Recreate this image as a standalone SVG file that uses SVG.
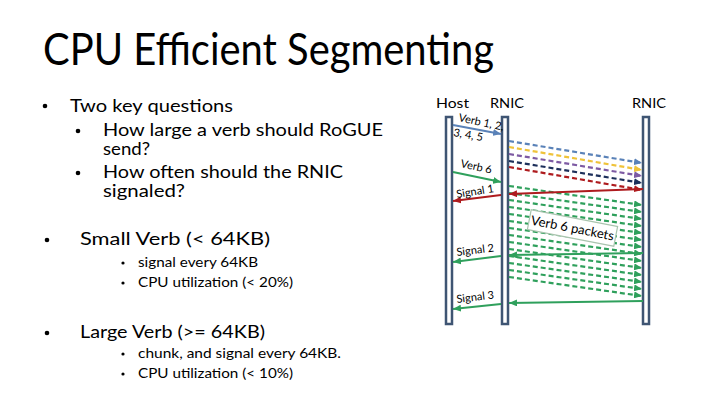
<svg xmlns="http://www.w3.org/2000/svg" width="720" height="405" viewBox="0 0 720 405">
<style>
text{font-family:Lato,"Liberation Sans",sans-serif;fill:#000}
.title{font-size:44px}
.l1{font-size:17px}
.l2{font-size:13.5px}
.hd{font-size:14px}
.lbl{font-size:11px}
.bar{fill:#fff;stroke:#3F5573;stroke-width:2.5}
.c{fill:none;stroke-width:2}
.d{stroke-dasharray:5 3;stroke-width:2.2}
</style>
<defs>
<marker id="mb" markerUnits="userSpaceOnUse" markerWidth="8" markerHeight="7" refX="8" refY="3.5" orient="auto"><path d="M0,0L8,3.5L0,7z" fill="#5A82B8"/></marker>
<marker id="my" markerUnits="userSpaceOnUse" markerWidth="8" markerHeight="7" refX="8" refY="3.5" orient="auto"><path d="M0,0L8,3.5L0,7z" fill="#EFC33A"/></marker>
<marker id="mp" markerUnits="userSpaceOnUse" markerWidth="8" markerHeight="7" refX="8" refY="3.5" orient="auto"><path d="M0,0L8,3.5L0,7z" fill="#7D5AA3"/></marker>
<marker id="mn" markerUnits="userSpaceOnUse" markerWidth="8" markerHeight="7" refX="8" refY="3.5" orient="auto"><path d="M0,0L8,3.5L0,7z" fill="#1C2F5A"/></marker>
<marker id="mr" markerUnits="userSpaceOnUse" markerWidth="8" markerHeight="7" refX="8" refY="3.5" orient="auto"><path d="M0,0L8,3.5L0,7z" fill="#AE1B1E"/></marker>
<marker id="mg" markerUnits="userSpaceOnUse" markerWidth="8" markerHeight="7" refX="8" refY="3.5" orient="auto"><path d="M0,0L8,3.5L0,7z" fill="#2FA05C"/></marker>
</defs>
<rect width="720" height="405" fill="#fff"/>

<g id="title"><text class="title" x="43" y="65" textLength="451" lengthAdjust="spacingAndGlyphs">CPU Efficient Segmenting</text></g>

<g id="bullets">
<circle cx="45" cy="106" r="2.3"/>
<text class="l1" x="70" y="112" textLength="163" lengthAdjust="spacingAndGlyphs">Two key questions</text>
<circle cx="78" cy="131" r="2.3"/>
<text class="l1" x="103" y="136" textLength="280" lengthAdjust="spacingAndGlyphs">How large a verb should RoGUE</text>
<text class="l1" x="103" y="155" textLength="47" lengthAdjust="spacingAndGlyphs">send?</text>
<circle cx="78" cy="173" r="2.3"/>
<text class="l1" x="103" y="178" textLength="240" lengthAdjust="spacingAndGlyphs">How often should the RNIC</text>
<text class="l1" x="103" y="197" textLength="82" lengthAdjust="spacingAndGlyphs">signaled?</text>

<circle cx="47" cy="240" r="2.3"/>
<text class="l1" x="80" y="245" textLength="190" lengthAdjust="spacingAndGlyphs">Small Verb (&lt; 64KB)</text>
<circle cx="123" cy="263" r="1.6"/>
<text class="l2" x="138" y="267" textLength="120" lengthAdjust="spacingAndGlyphs">signal every 64KB</text>
<circle cx="123" cy="283" r="1.6"/>
<text class="l2" x="138" y="287" textLength="155" lengthAdjust="spacingAndGlyphs">CPU utilization (&lt; 20%)</text>

<circle cx="47" cy="333" r="2.3"/>
<text class="l1" x="80" y="338" textLength="185" lengthAdjust="spacingAndGlyphs">Large Verb (&gt;= 64KB)</text>
<circle cx="123" cy="354" r="1.6"/>
<text class="l2" x="138" y="358" textLength="203" lengthAdjust="spacingAndGlyphs">chunk, and signal every 64KB.</text>
<circle cx="123" cy="374" r="1.6"/>
<text class="l2" x="138" y="378" textLength="155" lengthAdjust="spacingAndGlyphs">CPU utilization (&lt; 10%)</text>
</g>

<g id="host"><text class="hd" x="436" y="108" textLength="33" lengthAdjust="spacingAndGlyphs">Host</text><rect class="bar" x="446" y="117" width="6" height="207"/></g>
<g id="rnic1"><text class="hd" x="490" y="108" textLength="34" lengthAdjust="spacingAndGlyphs">RNIC</text><rect class="bar" x="502" y="117" width="6" height="207"/></g>
<g id="rnic2"><text class="hd" x="632" y="108" textLength="34" lengthAdjust="spacingAndGlyphs">RNIC</text><rect class="bar" x="643" y="117" width="6" height="207"/></g>

<g id="connectors">
<line class="c" x1="453" y1="125" x2="501" y2="134" stroke="#5A82B8" marker-end="url(#mb)"/>
<line class="c" x1="453" y1="172" x2="501" y2="182" stroke="#2FA05C" marker-end="url(#mg)"/>

<line class="c d" x1="509" y1="141" x2="642" y2="163" stroke="#5A82B8" marker-end="url(#mb)"/>
<line class="c d" x1="509" y1="147" x2="642" y2="170" stroke="#EFC33A" marker-end="url(#my)"/>
<line class="c d" x1="509" y1="154" x2="642" y2="176" stroke="#7D5AA3" marker-end="url(#mp)"/>
<line class="c d" x1="509" y1="161" x2="642" y2="183" stroke="#1C2F5A" marker-end="url(#mn)"/>
<line class="c d" x1="509" y1="167" x2="642" y2="190" stroke="#AE1B1E" marker-end="url(#mr)"/>

<g stroke="#2FA05C" marker-end="url(#mg)">
<line class="c d" x1="509" y1="186" x2="642" y2="205"/>
<line class="c d" x1="509" y1="193" x2="642" y2="212"/>
<line class="c d" x1="509" y1="200" x2="642" y2="219"/>
<line class="c d" x1="509" y1="207" x2="642" y2="226"/>
<line class="c d" x1="509" y1="214" x2="642" y2="233"/>
<line class="c d" x1="509" y1="221" x2="642" y2="240"/>
<line class="c d" x1="509" y1="228" x2="642" y2="247"/>
<line class="c d" x1="509" y1="235" x2="642" y2="254"/>
<line class="c d" x1="509" y1="242" x2="642" y2="261"/>
<line class="c d" x1="509" y1="249" x2="642" y2="268"/>
<line class="c d" x1="509" y1="256" x2="642" y2="275"/>
<line class="c d" x1="509" y1="263" x2="642" y2="282"/>
<line class="c d" x1="509" y1="270" x2="642" y2="289"/>
<line class="c d" x1="509" y1="277" x2="642" y2="296"/>
</g>

<line class="c" x1="643" y1="189" x2="509" y2="194" stroke="#AE1B1E" marker-end="url(#mr)"/>
<line class="c" x1="501" y1="195" x2="453" y2="201" stroke="#AE1B1E" marker-end="url(#mr)"/>
<line class="c" x1="643" y1="253" x2="509" y2="255" stroke="#2FA05C" marker-end="url(#mg)"/>
<line class="c" x1="501" y1="256" x2="453" y2="262" stroke="#2FA05C" marker-end="url(#mg)"/>
<line class="c" x1="643" y1="301" x2="509" y2="303" stroke="#2FA05C" marker-end="url(#mg)"/>
<line class="c" x1="501" y1="304" x2="453" y2="309" stroke="#2FA05C" marker-end="url(#mg)"/>
</g>

<g id="packets-label" transform="translate(572.5 228) rotate(11)">
<rect x="-44" y="-10" width="88" height="20" fill="#fff" stroke="#A9C4AE" stroke-width="1.2"/>
<text x="0" y="4.5" font-size="13" text-anchor="middle">Verb 6 packets</text>
</g>

<g id="labels">
<text class="lbl" transform="translate(458 121) rotate(12)">Verb 1, 2,</text>
<text class="lbl" transform="translate(453 136) rotate(10)">3, 4, 5</text>
<text class="lbl" transform="translate(460 167) rotate(12)">Verb 6</text>
<text class="lbl" transform="translate(457 198) rotate(-9)">Signal 1</text>
<text class="lbl" transform="translate(457 256) rotate(-7)">Signal 2</text>
<text class="lbl" transform="translate(457 303) rotate(-7)">Signal 3</text>
</g>
</svg>
